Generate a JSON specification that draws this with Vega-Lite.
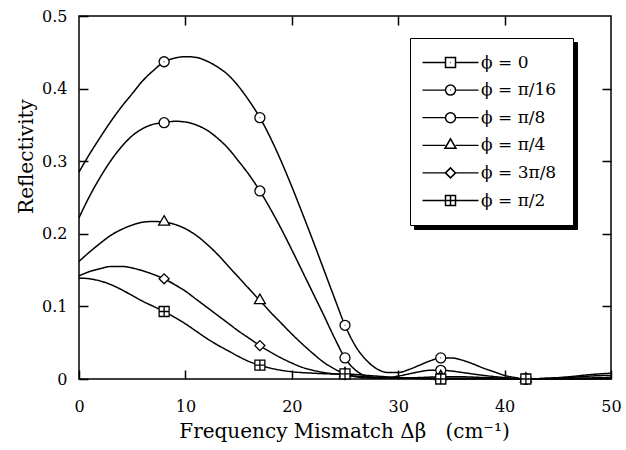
{
  "$schema": "https://vega.github.io/schema/vega-lite/v6.json",
  "autosize": {"type": "none"},
  "padding": {"left": 79, "top": 16, "right": 15, "bottom": 71},
  "width": 532,
  "height": 363,
  "background": "white",
  "datasets": {
    "curves": [
      {"phi": "ϕ = π/16", "dbeta": 0, "R": 0.285},
      {"phi": "ϕ = π/16", "dbeta": 1, "R": 0.31},
      {"phi": "ϕ = π/16", "dbeta": 2, "R": 0.333},
      {"phi": "ϕ = π/16", "dbeta": 3, "R": 0.355},
      {"phi": "ϕ = π/16", "dbeta": 4, "R": 0.375},
      {"phi": "ϕ = π/16", "dbeta": 5, "R": 0.393},
      {"phi": "ϕ = π/16", "dbeta": 6, "R": 0.411},
      {"phi": "ϕ = π/16", "dbeta": 7, "R": 0.425},
      {"phi": "ϕ = π/16", "dbeta": 8, "R": 0.437, "mk": 1},
      {"phi": "ϕ = π/16", "dbeta": 9, "R": 0.442},
      {"phi": "ϕ = π/16", "dbeta": 10, "R": 0.444},
      {"phi": "ϕ = π/16", "dbeta": 11, "R": 0.443},
      {"phi": "ϕ = π/16", "dbeta": 12, "R": 0.438},
      {"phi": "ϕ = π/16", "dbeta": 13, "R": 0.43},
      {"phi": "ϕ = π/16", "dbeta": 14, "R": 0.419},
      {"phi": "ϕ = π/16", "dbeta": 15, "R": 0.403},
      {"phi": "ϕ = π/16", "dbeta": 16, "R": 0.383},
      {"phi": "ϕ = π/16", "dbeta": 17, "R": 0.36, "mk": 1},
      {"phi": "ϕ = π/16", "dbeta": 18, "R": 0.332},
      {"phi": "ϕ = π/16", "dbeta": 19, "R": 0.3},
      {"phi": "ϕ = π/16", "dbeta": 20, "R": 0.265},
      {"phi": "ϕ = π/16", "dbeta": 21, "R": 0.228},
      {"phi": "ϕ = π/16", "dbeta": 22, "R": 0.19},
      {"phi": "ϕ = π/16", "dbeta": 23, "R": 0.151},
      {"phi": "ϕ = π/16", "dbeta": 24, "R": 0.112},
      {"phi": "ϕ = π/16", "dbeta": 25, "R": 0.074, "mk": 1},
      {"phi": "ϕ = π/16", "dbeta": 26, "R": 0.045},
      {"phi": "ϕ = π/16", "dbeta": 27, "R": 0.026},
      {"phi": "ϕ = π/16", "dbeta": 28, "R": 0.014},
      {"phi": "ϕ = π/16", "dbeta": 29, "R": 0.009},
      {"phi": "ϕ = π/16", "dbeta": 30, "R": 0.009},
      {"phi": "ϕ = π/16", "dbeta": 31, "R": 0.013},
      {"phi": "ϕ = π/16", "dbeta": 32, "R": 0.019},
      {"phi": "ϕ = π/16", "dbeta": 33, "R": 0.025},
      {"phi": "ϕ = π/16", "dbeta": 34, "R": 0.029, "mk": 1},
      {"phi": "ϕ = π/16", "dbeta": 35, "R": 0.029},
      {"phi": "ϕ = π/16", "dbeta": 36, "R": 0.026},
      {"phi": "ϕ = π/16", "dbeta": 37, "R": 0.021},
      {"phi": "ϕ = π/16", "dbeta": 38, "R": 0.015},
      {"phi": "ϕ = π/16", "dbeta": 39, "R": 0.01},
      {"phi": "ϕ = π/16", "dbeta": 40, "R": 0.005},
      {"phi": "ϕ = π/16", "dbeta": 41, "R": 0.002},
      {"phi": "ϕ = π/16", "dbeta": 42, "R": 0.0, "mk": 1},
      {"phi": "ϕ = π/16", "dbeta": 44, "R": 0.001},
      {"phi": "ϕ = π/16", "dbeta": 46, "R": 0.003},
      {"phi": "ϕ = π/16", "dbeta": 48, "R": 0.006},
      {"phi": "ϕ = π/16", "dbeta": 50, "R": 0.008},

      {"phi": "ϕ = π/8", "dbeta": 0, "R": 0.222},
      {"phi": "ϕ = π/8", "dbeta": 1, "R": 0.252},
      {"phi": "ϕ = π/8", "dbeta": 2, "R": 0.278},
      {"phi": "ϕ = π/8", "dbeta": 3, "R": 0.301},
      {"phi": "ϕ = π/8", "dbeta": 4, "R": 0.32},
      {"phi": "ϕ = π/8", "dbeta": 5, "R": 0.335},
      {"phi": "ϕ = π/8", "dbeta": 6, "R": 0.345},
      {"phi": "ϕ = π/8", "dbeta": 7, "R": 0.351},
      {"phi": "ϕ = π/8", "dbeta": 8, "R": 0.353, "mk": 1},
      {"phi": "ϕ = π/8", "dbeta": 9, "R": 0.355},
      {"phi": "ϕ = π/8", "dbeta": 10, "R": 0.354},
      {"phi": "ϕ = π/8", "dbeta": 11, "R": 0.35},
      {"phi": "ϕ = π/8", "dbeta": 12, "R": 0.343},
      {"phi": "ϕ = π/8", "dbeta": 13, "R": 0.332},
      {"phi": "ϕ = π/8", "dbeta": 14, "R": 0.318},
      {"phi": "ϕ = π/8", "dbeta": 15, "R": 0.3},
      {"phi": "ϕ = π/8", "dbeta": 16, "R": 0.281},
      {"phi": "ϕ = π/8", "dbeta": 17, "R": 0.259, "mk": 1},
      {"phi": "ϕ = π/8", "dbeta": 18, "R": 0.234},
      {"phi": "ϕ = π/8", "dbeta": 19, "R": 0.207},
      {"phi": "ϕ = π/8", "dbeta": 20, "R": 0.178},
      {"phi": "ϕ = π/8", "dbeta": 21, "R": 0.148},
      {"phi": "ϕ = π/8", "dbeta": 22, "R": 0.118},
      {"phi": "ϕ = π/8", "dbeta": 23, "R": 0.088},
      {"phi": "ϕ = π/8", "dbeta": 24, "R": 0.057},
      {"phi": "ϕ = π/8", "dbeta": 25, "R": 0.029, "mk": 1},
      {"phi": "ϕ = π/8", "dbeta": 26, "R": 0.012},
      {"phi": "ϕ = π/8", "dbeta": 27, "R": 0.004},
      {"phi": "ϕ = π/8", "dbeta": 28, "R": 0.002},
      {"phi": "ϕ = π/8", "dbeta": 29, "R": 0.002},
      {"phi": "ϕ = π/8", "dbeta": 30, "R": 0.004},
      {"phi": "ϕ = π/8", "dbeta": 31, "R": 0.007},
      {"phi": "ϕ = π/8", "dbeta": 32, "R": 0.01},
      {"phi": "ϕ = π/8", "dbeta": 33, "R": 0.012},
      {"phi": "ϕ = π/8", "dbeta": 34, "R": 0.012, "mk": 1},
      {"phi": "ϕ = π/8", "dbeta": 35, "R": 0.011},
      {"phi": "ϕ = π/8", "dbeta": 36, "R": 0.009},
      {"phi": "ϕ = π/8", "dbeta": 38, "R": 0.005},
      {"phi": "ϕ = π/8", "dbeta": 40, "R": 0.002},
      {"phi": "ϕ = π/8", "dbeta": 42, "R": 0.0, "mk": 1},
      {"phi": "ϕ = π/8", "dbeta": 44, "R": 0.001},
      {"phi": "ϕ = π/8", "dbeta": 46, "R": 0.002},
      {"phi": "ϕ = π/8", "dbeta": 48, "R": 0.004},
      {"phi": "ϕ = π/8", "dbeta": 50, "R": 0.005},

      {"phi": "ϕ = π/4", "dbeta": 0, "R": 0.162},
      {"phi": "ϕ = π/4", "dbeta": 1, "R": 0.175},
      {"phi": "ϕ = π/4", "dbeta": 2, "R": 0.187},
      {"phi": "ϕ = π/4", "dbeta": 3, "R": 0.198},
      {"phi": "ϕ = π/4", "dbeta": 4, "R": 0.206},
      {"phi": "ϕ = π/4", "dbeta": 5, "R": 0.212},
      {"phi": "ϕ = π/4", "dbeta": 6, "R": 0.216},
      {"phi": "ϕ = π/4", "dbeta": 7, "R": 0.217},
      {"phi": "ϕ = π/4", "dbeta": 8, "R": 0.216, "mk": 1},
      {"phi": "ϕ = π/4", "dbeta": 9, "R": 0.213},
      {"phi": "ϕ = π/4", "dbeta": 10, "R": 0.207},
      {"phi": "ϕ = π/4", "dbeta": 11, "R": 0.198},
      {"phi": "ϕ = π/4", "dbeta": 12, "R": 0.186},
      {"phi": "ϕ = π/4", "dbeta": 13, "R": 0.172},
      {"phi": "ϕ = π/4", "dbeta": 14, "R": 0.156},
      {"phi": "ϕ = π/4", "dbeta": 15, "R": 0.14},
      {"phi": "ϕ = π/4", "dbeta": 16, "R": 0.124},
      {"phi": "ϕ = π/4", "dbeta": 17, "R": 0.108, "mk": 1},
      {"phi": "ϕ = π/4", "dbeta": 18, "R": 0.092},
      {"phi": "ϕ = π/4", "dbeta": 19, "R": 0.077},
      {"phi": "ϕ = π/4", "dbeta": 20, "R": 0.062},
      {"phi": "ϕ = π/4", "dbeta": 21, "R": 0.048},
      {"phi": "ϕ = π/4", "dbeta": 22, "R": 0.035},
      {"phi": "ϕ = π/4", "dbeta": 23, "R": 0.023},
      {"phi": "ϕ = π/4", "dbeta": 24, "R": 0.014},
      {"phi": "ϕ = π/4", "dbeta": 25, "R": 0.007, "mk": 1},
      {"phi": "ϕ = π/4", "dbeta": 26, "R": 0.003},
      {"phi": "ϕ = π/4", "dbeta": 28, "R": 0.001},
      {"phi": "ϕ = π/4", "dbeta": 30, "R": 0.001},
      {"phi": "ϕ = π/4", "dbeta": 32, "R": 0.002},
      {"phi": "ϕ = π/4", "dbeta": 34, "R": 0.003, "mk": 1},
      {"phi": "ϕ = π/4", "dbeta": 36, "R": 0.003},
      {"phi": "ϕ = π/4", "dbeta": 38, "R": 0.002},
      {"phi": "ϕ = π/4", "dbeta": 40, "R": 0.001},
      {"phi": "ϕ = π/4", "dbeta": 42, "R": 0.0, "mk": 1},
      {"phi": "ϕ = π/4", "dbeta": 46, "R": 0.001},
      {"phi": "ϕ = π/4", "dbeta": 50, "R": 0.002},

      {"phi": "ϕ = 3π/8", "dbeta": 0, "R": 0.142},
      {"phi": "ϕ = 3π/8", "dbeta": 1, "R": 0.148},
      {"phi": "ϕ = 3π/8", "dbeta": 2, "R": 0.152},
      {"phi": "ϕ = 3π/8", "dbeta": 3, "R": 0.155},
      {"phi": "ϕ = 3π/8", "dbeta": 4, "R": 0.155},
      {"phi": "ϕ = 3π/8", "dbeta": 5, "R": 0.153},
      {"phi": "ϕ = 3π/8", "dbeta": 6, "R": 0.149},
      {"phi": "ϕ = 3π/8", "dbeta": 7, "R": 0.144},
      {"phi": "ϕ = 3π/8", "dbeta": 8, "R": 0.138, "mk": 1},
      {"phi": "ϕ = 3π/8", "dbeta": 9, "R": 0.13},
      {"phi": "ϕ = 3π/8", "dbeta": 10, "R": 0.121},
      {"phi": "ϕ = 3π/8", "dbeta": 11, "R": 0.11},
      {"phi": "ϕ = 3π/8", "dbeta": 12, "R": 0.099},
      {"phi": "ϕ = 3π/8", "dbeta": 13, "R": 0.088},
      {"phi": "ϕ = 3π/8", "dbeta": 14, "R": 0.077},
      {"phi": "ϕ = 3π/8", "dbeta": 15, "R": 0.066},
      {"phi": "ϕ = 3π/8", "dbeta": 16, "R": 0.056},
      {"phi": "ϕ = 3π/8", "dbeta": 17, "R": 0.046, "mk": 1},
      {"phi": "ϕ = 3π/8", "dbeta": 18, "R": 0.037},
      {"phi": "ϕ = 3π/8", "dbeta": 19, "R": 0.029},
      {"phi": "ϕ = 3π/8", "dbeta": 20, "R": 0.022},
      {"phi": "ϕ = 3π/8", "dbeta": 21, "R": 0.016},
      {"phi": "ϕ = 3π/8", "dbeta": 22, "R": 0.012},
      {"phi": "ϕ = 3π/8", "dbeta": 23, "R": 0.009},
      {"phi": "ϕ = 3π/8", "dbeta": 24, "R": 0.007},
      {"phi": "ϕ = 3π/8", "dbeta": 25, "R": 0.006, "mk": 1},
      {"phi": "ϕ = 3π/8", "dbeta": 26, "R": 0.004},
      {"phi": "ϕ = 3π/8", "dbeta": 28, "R": 0.002},
      {"phi": "ϕ = 3π/8", "dbeta": 30, "R": 0.001},
      {"phi": "ϕ = 3π/8", "dbeta": 34, "R": 0.001, "mk": 1},
      {"phi": "ϕ = 3π/8", "dbeta": 38, "R": 0.001},
      {"phi": "ϕ = 3π/8", "dbeta": 42, "R": 0.0, "mk": 1},
      {"phi": "ϕ = 3π/8", "dbeta": 50, "R": 0.001},

      {"phi": "ϕ = π/2", "dbeta": 0, "R": 0.139},
      {"phi": "ϕ = π/2", "dbeta": 1, "R": 0.138},
      {"phi": "ϕ = π/2", "dbeta": 2, "R": 0.135},
      {"phi": "ϕ = π/2", "dbeta": 3, "R": 0.13},
      {"phi": "ϕ = π/2", "dbeta": 4, "R": 0.123},
      {"phi": "ϕ = π/2", "dbeta": 5, "R": 0.115},
      {"phi": "ϕ = π/2", "dbeta": 6, "R": 0.107},
      {"phi": "ϕ = π/2", "dbeta": 7, "R": 0.1},
      {"phi": "ϕ = π/2", "dbeta": 8, "R": 0.093, "mk": 1},
      {"phi": "ϕ = π/2", "dbeta": 9, "R": 0.085},
      {"phi": "ϕ = π/2", "dbeta": 10, "R": 0.076},
      {"phi": "ϕ = π/2", "dbeta": 11, "R": 0.066},
      {"phi": "ϕ = π/2", "dbeta": 12, "R": 0.056},
      {"phi": "ϕ = π/2", "dbeta": 13, "R": 0.047},
      {"phi": "ϕ = π/2", "dbeta": 14, "R": 0.039},
      {"phi": "ϕ = π/2", "dbeta": 15, "R": 0.031},
      {"phi": "ϕ = π/2", "dbeta": 16, "R": 0.024},
      {"phi": "ϕ = π/2", "dbeta": 17, "R": 0.019, "mk": 1},
      {"phi": "ϕ = π/2", "dbeta": 18, "R": 0.015},
      {"phi": "ϕ = π/2", "dbeta": 19, "R": 0.012},
      {"phi": "ϕ = π/2", "dbeta": 20, "R": 0.01},
      {"phi": "ϕ = π/2", "dbeta": 22, "R": 0.008},
      {"phi": "ϕ = π/2", "dbeta": 24, "R": 0.007},
      {"phi": "ϕ = π/2", "dbeta": 25, "R": 0.007, "mk": 1},
      {"phi": "ϕ = π/2", "dbeta": 27, "R": 0.005},
      {"phi": "ϕ = π/2", "dbeta": 30, "R": 0.002},
      {"phi": "ϕ = π/2", "dbeta": 34, "R": 0.0, "mk": 1},
      {"phi": "ϕ = π/2", "dbeta": 42, "R": 0.0, "mk": 1},
      {"phi": "ϕ = π/2", "dbeta": 50, "R": 0.0}
    ]
  },
  "data": {"name": "curves"},
  "encoding": {
    "x": {"field": "dbeta", "type": "quantitative", "scale": {"domain": [0, 50], "nice": false, "zero": false}},
    "y": {"field": "R", "type": "quantitative", "scale": {"domain": [0, 0.5], "nice": false}}
  },
  "layer": [
    {
      "mark": {"type": "line", "interpolate": "monotone", "stroke": "black", "strokeWidth": 1.5},
      "encoding": {
        "x": {"field": "dbeta", "type": "quantitative", "axis": {"orient": "bottom", "values": [0, 10, 20, 30, 40, 50], "title": "Frequency Mismatch Δβ\u00a0\u00a0\u00a0(cm⁻¹)", "titleX": 265, "titleY": 52, "titleBaseline": "middle", "labelPadding": 28}},
        "y": {"field": "R", "type": "quantitative", "axis": {"orient": "left", "values": [0, 0.1, 0.2, 0.3, 0.4, 0.5], "format": "~g", "title": "Reflectivity", "titleX": -53, "titleY": 140, "titleBaseline": "middle", "labelPadding": 21}},
        "strokeDash": {
          "field": "phi",
          "type": "nominal",
          "scale": {
            "domain": ["ϕ = π/2", "ϕ = 3π/8", "ϕ = π/4", "ϕ = π/8", "ϕ = π/16", "ϕ = 0"],
            "range": [[1, 0], [1, 0], [1, 0], [1, 0], [1, 0], [1, 0]]
          },
          "legend": {
            "orient": "none",
            "legendX": 331,
            "legendY": 22,
            "zindex": 2,
            "title": null,
            "padding": 16,
            "symbolType": "M-5.6,0H-1M1,0H5.6",
            "symbolSize": 100,
            "symbolStrokeWidth": 1.3,
            "symbolStrokeColor": "black",
            "symbolOffset": 16,
            "labelExpr": "''",
            "labelOffset": 22,
            "labelFont": "DejaVu Serif",
            "labelFontSize": 17,
            "rowPadding": 9.6
          }
        },
        "opacity": {
          "field": "phi",
          "type": "nominal",
          "scale": {
            "domain": ["ϕ = π/16", "ϕ = 0", "ϕ = π/8", "ϕ = π/4", "ϕ = 3π/8", "ϕ = π/2"],
            "range": [1, 1]
          },
          "legend": {
            "orient": "none",
            "legendX": 335,
            "legendY": 26,
            "zindex": 0,
            "title": null,
            "padding": 16,
            "fillColor": "black",
            "strokeColor": "black",
            "symbolSize": 100,
            "symbolStrokeWidth": 1.3,
            "symbolStrokeColor": "black",
            "symbolFillColor": "black",
            "symbolOffset": 16,
            "labelExpr": "''",
            "labelOffset": 98,
            "labelFont": "DejaVu Serif",
            "labelFontSize": 17,
            "rowPadding": 9.6
          }
        }
      }
    },
    {
      "transform": [{"filter": "datum.mk == 1"}],
      "mark": {"type": "point", "filled": false, "fill": "white", "fillOpacity": 1, "stroke": "black", "strokeWidth": 1.3, "opacity": 1, "size": 100},
      "encoding": {
        "x": {"field": "dbeta", "type": "quantitative", "axis": {"orient": "top", "values": [10, 20, 30, 40], "labels": false, "title": null}},
        "y": {"field": "R", "type": "quantitative", "axis": {"orient": "right", "values": [0.1, 0.2, 0.3, 0.4], "labels": false, "title": null}},
        "shape": {
          "field": "phi",
          "type": "nominal",
          "scale": {
            "domain": ["ϕ = 0", "ϕ = π/16", "ϕ = π/8", "ϕ = π/4", "ϕ = 3π/8", "ϕ = π/2"],
            "range": [
              "M-1,-1H1V1H-1ZM-0.06,0H0.06",
              "M1,0A1,1,0,1,1,-1,0A1,1,0,1,1,1,0ZM-0.06,0H0.06",
              "M1,0A1,1,0,1,1,-1,0A1,1,0,1,1,1,0Z",
              "M0,-1.3L1.1,0.6H-1.1Z",
              "M-1,0L0,-1L1,0L0,1Z",
              "M-1,-1H1V1H-1ZM-1,0H1M0,-1V1"
            ]
          },
          "legend": {
            "orient": "none",
            "legendX": 331,
            "legendY": 22,
            "zindex": 1,
            "title": null,
            "padding": 16,
            "fillColor": "white",
            "strokeColor": "black",
            "symbolSize": 100,
            "symbolOffset": 16,
            "labelOffset": 22,
            "labelFont": "DejaVu Serif",
            "labelFontSize": 17,
            "labelColor": "black",
            "rowPadding": 9.6
          }
        }
      }
    }
  ],
  "resolve": {"axis": {"x": "independent", "y": "independent"}},
  "config": {
    "view": {"stroke": "black", "strokeWidth": 1.5},
    "axis": {
      "grid": false,
      "domain": false,
      "labelFont": "DejaVu Serif",
      "labelFontSize": 16,
      "labelColor": "black",
      "labelFlush": false,
      "labelOverlap": false,
      "titleFont": "DejaVu Serif",
      "titleFontSize": 20,
      "titleFontWeight": "normal",
      "titleColor": "black",
      "tickColor": "black",
      "tickWidth": 1.5,
      "tickSize": -9
    }
  }
}
